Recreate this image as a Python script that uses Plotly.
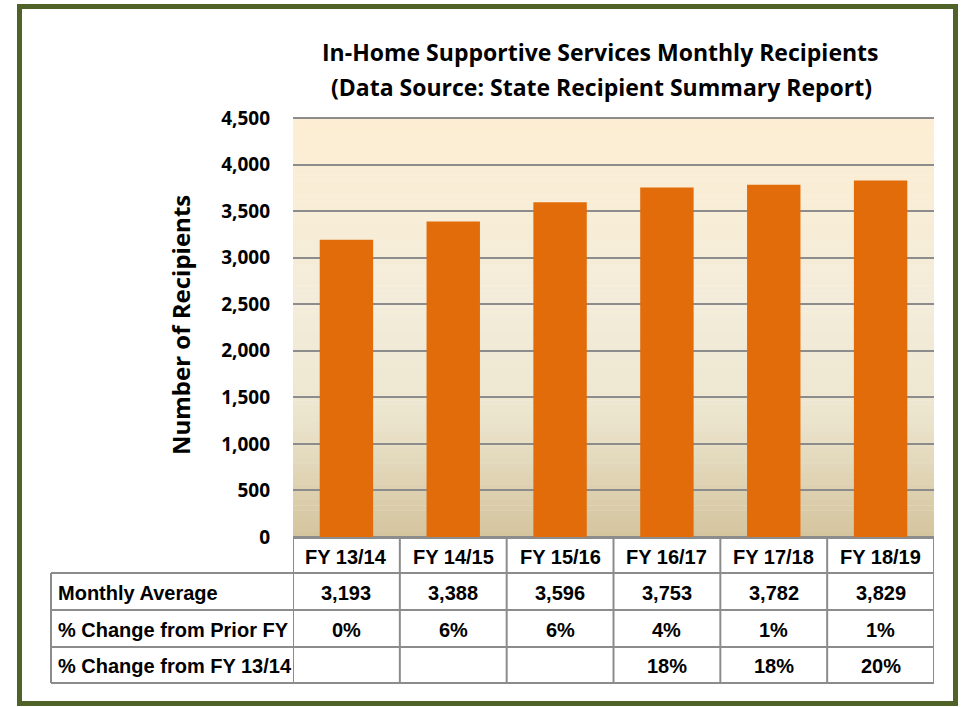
import plotly.graph_objects as go

# ---- data ----
categories = ["FY 13/14", "FY 14/15", "FY 15/16", "FY 16/17", "FY 17/18", "FY 18/19"]
monthly_average = [3193, 3388, 3596, 3753, 3782, 3829]
pct_change_prior = ["0%", "6%", "6%", "4%", "1%", "1%"]
pct_change_base = ["", "", "", "18%", "18%", "20%"]
row_labels = ["Monthly Average", "% Change from Prior FY", "% Change from FY 13/14"]
title_lines = ["In-Home Supportive Services Monthly Recipients",
               "(Data Source: State Recipient Summary Report)"]
y_title = "Number of Recipients"

# ---- layout geometry (pixels) ----
W, H = 961, 707
ML, MR, MT, MB = 293, 27, 116, 168
PW, PH = W - ML - MR, H - MT - MB
PAD_UNITS = 2 * 4500 / 419.0


def px(x):
    return (x - ML) / PW


def py(y):
    return (H - MB - y) / PH


ORANGE = "#E36C0A"
GRID = "#8C8C8C"
GREEN = "#4F6228"
TABLE_FONT = "Liberation Sans"
CAL_FONT = "Open Sans"

fig = go.Figure()
fig.add_trace(go.Bar(x=categories, y=monthly_average, marker=dict(color=ORANGE, line=dict(width=0)),
                     hoverinfo="x+y"))

shapes = []
# gradient background of plot area (between pixel rows 118 and 537)
stops = [(0.0, (253, 238, 211)), (0.45, (243, 236, 218)), (0.7, (237, 230, 207)), (1.0, (212, 196, 158))]
N = 80


def col_at(t):
    for (t0, c0), (t1, c1) in zip(stops[:-1], stops[1:]):
        if t0 <= t <= t1:
            f = (t - t0) / (t1 - t0)
            return tuple(round(a + (b - a) * f) for a, b in zip(c0, c1))
    return stops[-1][1]


top_px, bot_px = 118, 537
for i in range(N):
    t = (i + 0.5) / N
    c = col_at(t)
    y_hi = top_px + (bot_px - top_px) * i / N
    y_lo = top_px + (bot_px - top_px) * (i + 1) / N
    shapes.append(dict(type="rect", xref="x domain", yref="paper", x0=0, x1=1,
                       y0=py(y_lo), y1=py(y_hi) + 0.001, layer="below",
                       line=dict(width=0), fillcolor="rgb(%d,%d,%d)" % c))

# table grid
n = len(categories)
row_y = [538, 573, 610, 647, 683]
tline = dict(color=GRID, width=2)
for k in range(n + 1):
    shapes.append(dict(type="line", xref="x", yref="paper", x0=k - 0.5, x1=k - 0.5,
                       y0=py(row_y[0]), y1=py(row_y[-1]), line=tline))
shapes.append(dict(type="line", xref="paper", yref="paper", x0=px(51), x1=px(51),
                   y0=py(row_y[1]), y1=py(row_y[-1]), line=tline))
shapes.append(dict(type="line", xref="x", yref="paper", x0=-0.5, x1=n - 0.5,
                   y0=py(row_y[0]), y1=py(row_y[0]), line=tline))
for ry in row_y[1:]:
    shapes.append(dict(type="line", xref="paper", yref="paper", x0=px(51), x1=1,
                       y0=py(ry), y1=py(ry), line=tline))
# outer green frame
shapes.append(dict(type="rect", xref="paper", yref="paper", x0=px(19.5), x1=px(955.5),
                   y0=py(703.5), y1=py(6.5), line=dict(color=GREEN, width=5), layer="above"))

annotations = []
tf = dict(family=TABLE_FONT, size=20, color="black")
for i, c in enumerate(categories):
    annotations.append(dict(x=c, xref="x", y=py((row_y[0] + row_y[1]) / 2 + 1), yref="paper",
                            xanchor="center", yanchor="middle",
                            text="<b>%s</b>" % c, showarrow=False, font=tf))
rows = [["{:,}".format(v) for v in monthly_average], pct_change_prior, pct_change_base]
for r, vals in enumerate(rows):
    yc = py((row_y[r + 1] + row_y[r + 2]) / 2 + 1)
    annotations.append(dict(x=px(56), xref="paper", y=yc, yref="paper", xanchor="left",
                            yanchor="middle",
                            text="<b>%s</b>" % row_labels[r], showarrow=False, font=tf))
    for c, v in zip(categories, vals):
        if v:
            annotations.append(dict(x=c, xref="x", y=yc, yref="paper",
                                    xanchor="center", yanchor="middle",
                                    text="<b>%s</b>" % v, showarrow=False, font=tf))
# title
for line, xc, yc in zip(title_lines, (600, 601), (52, 87)):
    annotations.append(dict(x=px(xc), xref="paper", y=py(yc), yref="paper",
                            xanchor="center", yanchor="middle",
                            text="<b>%s</b>" % line, showarrow=False,
                            font=dict(family=CAL_FONT, size=23, color="black")))
# y title
annotations.append(dict(x=px(180), xref="paper", y=py(325), yref="paper", textangle=-90,
                        xanchor="center", yanchor="middle",
                        text="<b>%s</b>" % y_title, showarrow=False,
                        font=dict(family=CAL_FONT, size=24, color="black")))

fig.update_layout(
    width=W, height=H,
    margin=dict(l=ML, r=MR, t=MT, b=MB, pad=0),
    paper_bgcolor="white", plot_bgcolor="rgba(0,0,0,0)",
    bargap=0.5, showlegend=False,
    shapes=shapes, annotations=annotations,
    xaxis=dict(showticklabels=False, showgrid=False, zeroline=False, showline=False,
               range=[-0.5, n - 0.5], fixedrange=True),
    yaxis=dict(range=[-PAD_UNITS, 4500 + PAD_UNITS], dtick=500, tick0=0, tickformat=",",
               showgrid=True, gridcolor=GRID, gridwidth=2, zeroline=False, showline=False,
               ticks="", ticklabelstandoff=22,
               tickfont=dict(family=CAL_FONT, size=19, color="black", weight="bold"),
               fixedrange=True),
)

fig.write_html("out.html", config={"displayModeBar": False},
               post_script="document.body.style.margin='0';document.body.style.overflow='hidden';")
